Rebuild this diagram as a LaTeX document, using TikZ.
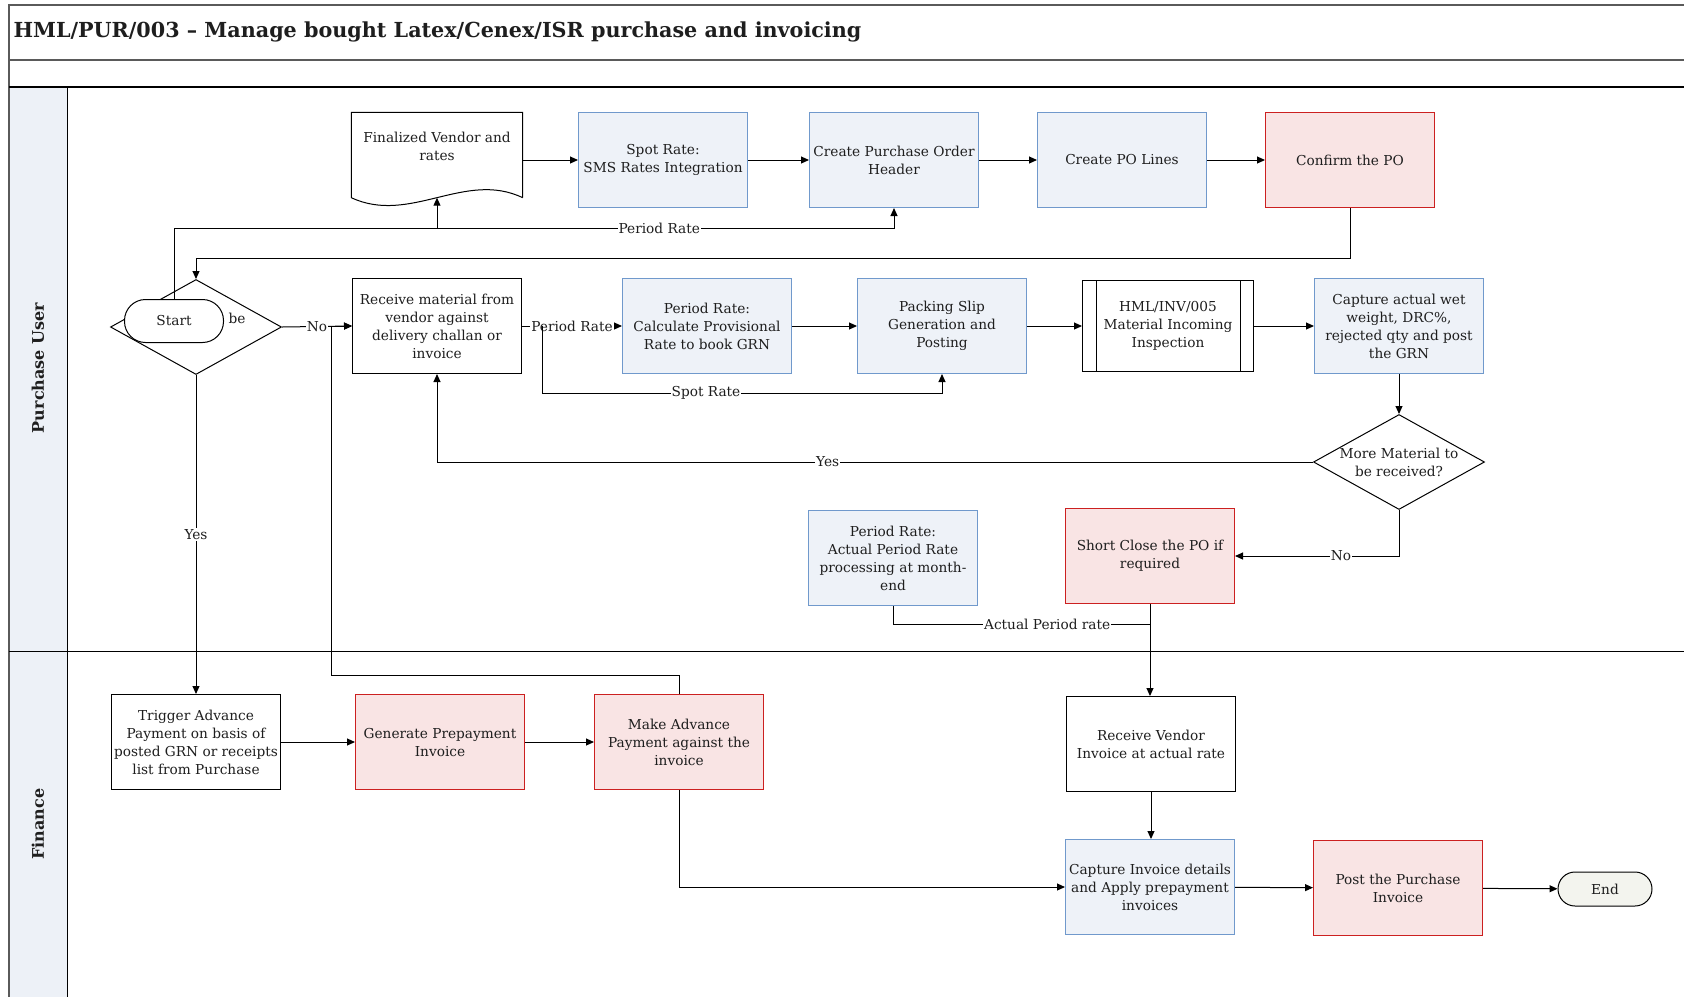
\documentclass[tikz,border=0pt]{standalone}
\usepackage{fontspec}
\setmainfont{DejaVu Serif}
\usetikzlibrary{arrows.meta}
\usetikzlibrary{shapes.geometric}
\definecolor{bluefill}{HTML}{EEF2F8}
\definecolor{blueline}{HTML}{7099CC}
\definecolor{redfill}{HTML}{F9E4E4}
\definecolor{redline}{HTML}{CC2020}
\definecolor{lanefill}{HTML}{EDF1F7}
\definecolor{textgray}{HTML}{1E1E1E}
\definecolor{framegray}{HTML}{5A5A5A}
\definecolor{endfill}{HTML}{F3F4EE}
\tikzstyle{process}=[draw, line width=1pt, minimum width=169pt, minimum height=95pt, align=center, inner sep=2pt, fill=white]
\tikzstyle{blue process}=[process, draw=blueline, fill=bluefill]
\tikzstyle{red process}=[process, draw=redline, fill=redfill]
\tikzstyle{predefined}=[process, minimum width=171pt, minimum height=91pt]
\tikzstyle{decision}=[diamond, draw, line width=1pt, minimum width=171pt, minimum height=95pt, inner sep=0pt, fill=white]
\tikzstyle{terminal}=[draw, line width=1pt, rounded corners=17pt, minimum width=94pt, minimum height=34pt, fill=endfill]
\tikzstyle{docshape}=[minimum width=171pt, minimum height=85pt, inner sep=0pt]
\tikzstyle{flow}=[line width=1pt, -{Triangle[length=8pt,width=7pt]}]
\tikzstyle{plain flow}=[line width=1pt]
\tikzstyle{flow label}=[fill=white, inner sep=1pt]
\tikzstyle{lane title}=[rotate=90, font=\bfseries\fontsize{16}{19}\selectfont]

\begin{document}
\begin{tikzpicture}[x=1pt, y=-1pt, font=\fontsize{13.7}{18}\selectfont, text=textgray]
  \useasboundingbox (0,0) rectangle (1684,997);
  % frame and lanes
  \fill[lanefill] (9,87) rectangle (67,997);
  \draw[framegray, line width=1.3pt] (1684,5) -- (9,5) -- (9,997);
  \draw[framegray, line width=1.3pt] (9,60) -- (1684,60);
  \draw[line width=1.3pt] (9,87) -- (1684,87);
  \draw[line width=1pt] (9,651) -- (1684,651);
  \draw[line width=1pt] (67,87) -- (67,997);
  \node[anchor=west, font=\bfseries\fontsize{20.7}{24}\selectfont] (title) at (10,32)
    {HML/PUR/003 – Manage bought Latex/Cenex/ISR purchase and invoicing};
  \node[lane title] (purchaselane) at (38,368) {Purchase User};
  \node[lane title] (financelane) at (38,824) {Finance};

  % purchase user lane
  \node[docshape] (vendor) at (437,155) {};
  \draw[line width=1pt] (vendor.south east) -- (vendor.north east) -- (vendor.north west)
    -- (vendor.south west) .. controls (410,225) and (465,170) .. (vendor.south east);
  \node[align=center] (vendortext) at (437,146) {Finalized Vendor and\\rates};
  \node[blue process] (spot) at (663,160) {Spot Rate:\\SMS Rates Integration};
  \node[blue process] (poheader) at (894,160) {Create Purchase Order\\Header};
  \node[blue process] (polines) at (1122,160) {Create PO Lines};
  \node[red process] (confirm) at (1350,160) {Confirm the PO};

  \node[decision] (check) at (196,327) {};
  \node[terminal, fill=white, minimum width=99pt, minimum height=43pt, rounded corners=21pt] (start) at (174,321) {Start};
  \node (be) at (237,318) {be};
  \node[process] (receive) at (437,326) {Receive material from\\vendor against\\delivery challan or\\invoice};
  \node[blue process] (provisional) at (707,326) {Period Rate:\\Calculate Provisional\\Rate to book GRN};
  \node[blue process] (packing) at (942,326) {Packing Slip\\Generation and\\Posting};
  \node[predefined] (inspection) at (1168,326) {HML/INV/005\\Material Incoming\\Inspection};
  \draw[line width=1pt] ([xshift=14pt]inspection.north west) -- ([xshift=14pt]inspection.south west);
  \draw[line width=1pt] ([xshift=-14pt]inspection.north east) -- ([xshift=-14pt]inspection.south east);
  \node[blue process] (capture) at (1399,326) {Capture actual wet\\weight, DRC\%,\\rejected qty and post\\the GRN};
  \node[decision] (more) at (1399,462) {};
  \node[align=center] (moretext) at (1399,462) {More Material to\\be received?};
  \node[red process] (shortclose) at (1150,556) {Short Close the PO if\\required};
  \node[blue process] (actualrate) at (893,558) {Period Rate:\\Actual Period Rate\\processing at month-\\end};

  % finance lane
  \node[process] (trigger) at (196,742) {Trigger Advance\\Payment on basis of\\posted GRN or receipts\\list from Purchase};
  \node[red process] (prepay) at (440,742) {Generate Prepayment\\Invoice};
  \node[red process] (advance) at (679,742) {Make Advance\\Payment against the\\invoice};
  \node[process] (vendorinv) at (1151,744) {Receive Vendor\\Invoice at actual rate};
  \node[blue process] (invdetails) at (1150,887) {Capture Invoice details\\and Apply prepayment\\invoices};
  \node[red process] (post) at (1398,888) {Post the Purchase\\Invoice};
  \node[terminal] (finish) at (1605,889) {End};

  % connectors
  \coordinate (confirmturn) at (196,258);
  \coordinate (periodturn) at (174,228);
  \coordinate (spotsplit) at (542,326);
  \coordinate (spotturn) at (542,393);
  \coordinate (advanceturn) at (331,675);
  \coordinate (actualjoin) at (1150,624);
  \draw[flow] (vendor.east |- spot.west) -- (spot.west);
  \draw[flow] (spot) -- (poheader);
  \draw[flow] (poheader) -- (polines);
  \draw[flow] (polines) -- (confirm);
  \draw[flow] (confirm.south) |- (confirmturn) -- (check.north);
  \draw[flow] (start.north) -- (periodturn) -| node[flow label, pos=0.337] {Period Rate} (poheader.south);
  \draw[flow] (vendor.south |- periodturn) -- (vendor.south);
  \draw[flow] (check.east) -- node[flow label] {No} (receive.west);
  \draw[flow] (advance.north) |- (advanceturn) |- (receive.west);
  \draw[flow] (receive.east) -- node[flow label] {Period Rate} (provisional.west);
  \draw[flow] (spotsplit) -- (spotturn) -| node[flow label, pos=0.205] {Spot Rate} (packing.south);
  \draw[flow] (provisional) -- (packing);
  \draw[flow] (packing) -- (inspection);
  \draw[flow] (inspection) -- (capture);
  \draw[flow] (capture.south) -- (more.north);
  \draw[flow] (more.west) -| node[flow label, pos=0.277] {Yes} (receive.south);
  \draw[flow] (more.south) |- node[flow label, pos=0.677] {No} (shortclose.east);
  \draw[flow] (shortclose.south) -- (shortclose.south |- vendorinv.north);
  \draw[plain flow] (actualrate.south) |- node[flow label, pos=0.8] {Actual Period rate} (actualjoin);
  \draw[flow] (check.south) -- node[flow label] {Yes} (trigger.north);
  \draw[flow] (trigger) -- (prepay);
  \draw[flow] (prepay) -- (advance);
  \draw[flow] (advance.south) |- (invdetails.west);
  \draw[flow] (vendorinv.south) -- (vendorinv.south |- invdetails.north);
  \draw[flow] (invdetails) -- (post);
  \draw[flow] (post) -- (finish);
\end{tikzpicture}
\end{document}
